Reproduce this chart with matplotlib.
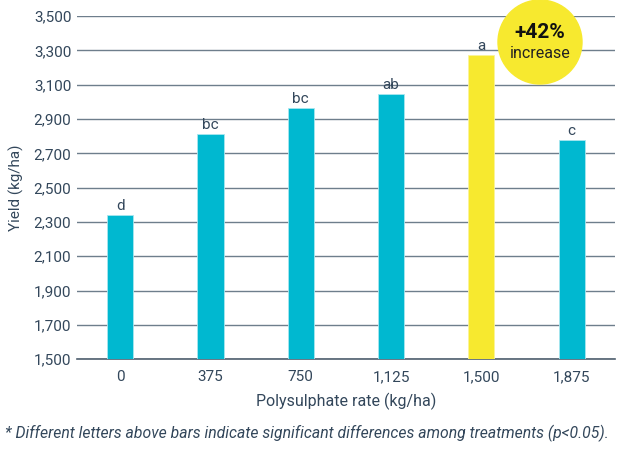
import matplotlib
matplotlib.use("Agg")
import matplotlib.pyplot as plt
from matplotlib.patches import Circle

# data
rates = ['0', '375', '750', '1,125', '1,500', '1,875']
yields = [2340, 2812, 2963, 3045, 3273, 2777]
letters = ['d', 'bc', 'bc', 'ab', 'a', 'c']
y_ticks = list(range(1500, 3501, 200))
highlight = '1,500'

TEAL = '#00B8D0'
YELLOW = '#F7E92F'
TEXT = '#33475B'
GRID = '#6E7E8C'

plt.rcParams['font.family'] = ['Roboto', 'DejaVu Sans']

fig = plt.figure(figsize=(6.2, 4.5), dpi=100)
ax = fig.add_axes([0.124, 0.202, 0.868, 0.762])

x = list(range(len(rates)))
colors = [YELLOW if r == highlight else TEAL for r in rates]
edges = ['#FBF39A' if r == highlight else '#A8E6EF' for r in rates]
ax.bar(x, [v - 1500 for v in yields], bottom=1500, width=0.29,
       color=colors, edgecolor=edges, linewidth=0.6, zorder=3)
for xi, v, lab in zip(x, yields, letters):
    ax.text(xi, v + 15, lab, ha='center', va='bottom', fontsize=11, color=TEXT, zorder=4)

ax.set_xlim(-0.48, 5.48)
ax.set_ylim(1500, 3500)
ax.set_yticks(y_ticks)
ax.set_yticklabels([f'{t:,}' for t in y_ticks])
ax.set_xticks(x)
ax.set_xticklabels(rates)
ax.tick_params(length=0, labelsize=11, colors=TEXT)
ax.tick_params(axis='y', pad=4)
ax.tick_params(axis='x', pad=8)
ax.grid(axis='y', color=GRID, linewidth=1.0, zorder=0)
for s in ['top', 'right', 'left']:
    ax.spines[s].set_visible(False)
ax.spines['bottom'].set_color('#4F5F6E')
ax.spines['bottom'].set_linewidth(1.2)

ax.set_ylabel('Yield (kg/ha)', fontsize=11, color=TEXT, labelpad=7)
ax.set_xlabel('Polysulphate rate (kg/ha)', fontsize=11.5, color=TEXT, labelpad=6)

# the "+42% increase" badge
circ = Circle((5.40, 4.08), 0.42, transform=fig.dpi_scale_trans,
              color=YELLOW, zorder=5, clip_on=False)
fig.add_artist(circ)
fig.text(540 / 620, 1 - 32 / 450, '+42%', ha='center', va='center',
         fontsize=15, fontweight='bold', color='#111111', zorder=6)
fig.text(540 / 620, 1 - 53 / 450, 'increase', ha='center', va='center',
         fontsize=11.5, color='#222222', zorder=6)

fig.text(5 / 620, 1 - 433 / 450,
         '* Different letters above bars indicate significant differences among treatments (p<0.05).',
         ha='left', va='center', fontsize=11.3, style='italic', color=TEXT)

fig.savefig('out.png', dpi=100)
